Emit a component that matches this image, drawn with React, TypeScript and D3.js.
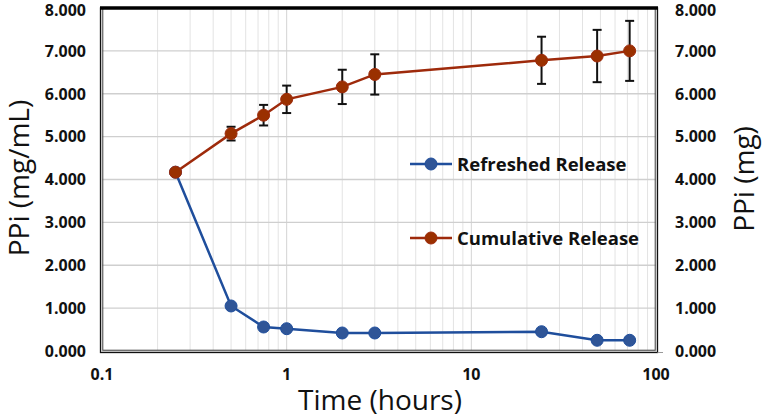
import React from 'react';
import * as d3 from 'd3';

// Time points (hours)
const times = [0.25, 0.5, 0.75, 1, 2, 3, 24, 48, 72];
// PPi refreshed release (mg/mL)
const refreshed = [4.17, 1.05, 0.56, 0.52, 0.42, 0.42, 0.45, 0.25, 0.25];
// PPi cumulative release (mg)
const cumulative = [4.17, 5.07, 5.5, 5.87, 6.16, 6.45, 6.78, 6.88, 7.0];
const cumulativeErr = [0, 0.16, 0.24, 0.32, 0.4, 0.47, 0.55, 0.61, 0.7];

const xTicks = [0.1, 1, 10, 100];
const yTicks = [0, 1, 2, 3, 4, 5, 6, 7, 8];

const legendItems = [
  { label: 'Refreshed Release', key: 'refreshed' },
  { label: 'Cumulative Release', key: 'cumulative' },
];

const W = 765;
const H = 419;
const margin = { top: 8, right: 109, bottom: 68, left: 102 };

const blueLine = '#1f4e9c';
const blueDot = '#2f5597';
const redLine = '#9e2a0b';
const redDot = '#9a3000';

export default function App() {
  const x = d3.scaleLog().domain([0.1, 100]).range([margin.left, W - margin.right]);
  const y = d3.scaleLinear().domain([0, 8]).range([H - margin.bottom, margin.top]);
  const yR = d3.scaleLinear().domain([0, 8]).range([H - margin.bottom, margin.top]);

  const minor: number[] = [];
  [0.1, 1, 10].forEach((d) => {
    for (let k = 2; k <= 9; k++) minor.push(d * k);
  });

  const line = d3
    .line<number>()
    .x((_, i) => x(times[i]))
    .y((d) => y(d));

  const x0 = margin.left;
  const x1 = W - margin.right;
  const y0 = H - margin.bottom;
  const y1 = margin.top;
  const font = '"Open Sans", "Noto Sans", sans-serif';

  // keep the top tick label inside the page
  const labelY = (t: number) => Math.max(y(t), 10);

  return (
    <svg width={W} height={H} style={{ position: 'absolute', left: 0, top: 0, background: '#fff' }}>
      {/* gridlines */}
      {minor.map((t) => (
        <line key={'m' + t} x1={x(t)} x2={x(t)} y1={y1} y2={y0} stroke="#e3e3e3" strokeWidth={1} />
      ))}
      {xTicks.map((t) => (
        <line key={'vx' + t} x1={x(t)} x2={x(t)} y1={y1} y2={y0} stroke="#d4d4d4" strokeWidth={1} />
      ))}
      {yTicks.map((t) => (
        <line key={'gy' + t} x1={x0} x2={x1} y1={y(t)} y2={y(t)} stroke="#cfcfcf" strokeWidth={1.3} />
      ))}

      {/* frame */}
      <rect x={x0 - 1.5} y={y1} width={x1 - x0 + 3} height={y0 - y1 + 1.5} fill="none" stroke="#111" strokeWidth={1.3} />
      <rect x={x0 + 0.8} y={y1} width={x1 - x0 - 1.6} height={y0 - y1 - 0.8} fill="none" stroke="#444" strokeWidth={1} />
      <line x1={x0 - 2} x2={x1 + 2} y1={y1} y2={y1} stroke="#000" strokeWidth={3.5} />
      <line x1={x1 + 1.5} x2={x1 + 7} y1={y0 + 1.5} y2={y0 + 1.5} stroke="#999" strokeWidth={1} />

      {/* error bars */}
      {cumulative.map((v, i) =>
        cumulativeErr[i] > 0 ? (
          <g key={'e' + i} stroke="#111" strokeWidth={2}>
            <line x1={x(times[i])} x2={x(times[i])} y1={y(v - cumulativeErr[i])} y2={y(v + cumulativeErr[i])} />
            <line x1={x(times[i]) - 4.5} x2={x(times[i]) + 4.5} y1={y(v - cumulativeErr[i])} y2={y(v - cumulativeErr[i])} />
            <line x1={x(times[i]) - 4.5} x2={x(times[i]) + 4.5} y1={y(v + cumulativeErr[i])} y2={y(v + cumulativeErr[i])} />
          </g>
        ) : null
      )}

      {/* series */}
      <path d={line(refreshed) || ''} fill="none" stroke={blueLine} strokeWidth={2.5} />
      {refreshed.map((v, i) => (
        <circle key={'b' + i} cx={x(times[i])} cy={y(v)} r={6} fill={blueDot} stroke={blueLine} strokeWidth={1} />
      ))}
      <path d={line(cumulative) || ''} fill="none" stroke={redLine} strokeWidth={2.5} />
      {cumulative.map((v, i) => (
        <circle key={'r' + i} cx={x(times[i])} cy={y(v)} r={6} fill={redDot} stroke={redLine} strokeWidth={1} />
      ))}

      {/* left y tick labels */}
      {yTicks.map((t) => (
        <text key={'ly' + t} x={86} y={labelY(t)} dy="0.36em" textAnchor="end" fontFamily={font} fontWeight="bold" fontSize={16} fill="#111">
          {d3.format('.3f')(t)}
        </text>
      ))}
      {/* right y tick labels */}
      {yTicks.map((t) => (
        <text key={'ry' + t} x={675} y={Math.max(yR(t), 10)} dy="0.36em" textAnchor="start" fontFamily={font} fontWeight="bold" fontSize={16} fill="#111">
          {d3.format('.3f')(t)}
        </text>
      ))}
      {/* x tick labels */}
      {xTicks.map((t) => (
        <text key={'xt' + t} x={x(t)} y={374} dy="0.36em" textAnchor="middle" fontFamily={font} fontWeight="bold" fontSize={16} fill="#111">
          {String(t)}
        </text>
      ))}

      {/* axis titles */}
      <text transform={`translate(29,178) rotate(-90)`} textAnchor="middle" fontFamily={font} fontSize={28} fill="#111">
        PPi (mg/mL)
      </text>
      <text transform={`translate(754,179) rotate(-90)`} textAnchor="middle" fontFamily={font} fontSize={28} fill="#111">
        PPi (mg)
      </text>
      <text x={380} y={410} textAnchor="middle" fontFamily={font} fontSize={28} fill="#111">
        Time (hours)
      </text>

      {/* legend */}
      {legendItems.map((item, i) => {
        const ly = 164 + i * 74;
        const stroke = item.key === 'refreshed' ? blueLine : redLine;
        const fill = item.key === 'refreshed' ? blueDot : redDot;
        return (
          <g key={item.key}>
            <line x1={410} x2={452} y1={ly} y2={ly} stroke={stroke} strokeWidth={2.5} />
            <circle cx={431} cy={ly} r={6} fill={fill} stroke={stroke} strokeWidth={1} />
            <text x={457} y={ly} dy="0.36em" fontFamily={font} fontWeight="bold" fontSize={18.5} fill="#111">
              {item.label}
            </text>
          </g>
        );
      })}
    </svg>
  );
}
